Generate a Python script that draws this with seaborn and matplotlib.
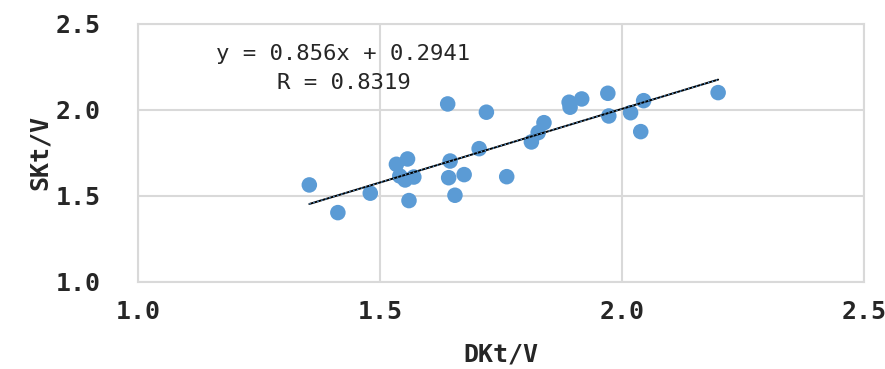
import numpy as np
import pandas as pd
import matplotlib
matplotlib.use("Agg")
import matplotlib.pyplot as plt
import seaborn as sns

# Data
dkt_v = [1.354, 1.413, 1.480, 1.534, 1.557, 1.541, 1.552, 1.570, 1.560,
         1.640, 1.645, 1.642, 1.655, 1.674, 1.705, 1.720, 1.762, 1.813,
         1.827, 1.839, 1.891, 1.893, 1.917, 1.971, 1.973, 2.018, 2.039,
         2.045, 2.199]
skt_v = [1.564, 1.403, 1.516, 1.684, 1.715, 1.616, 1.593, 1.610, 1.473,
         2.035, 1.703, 1.606, 1.504, 1.624, 1.775, 1.987, 1.612, 1.814,
         1.868, 1.926, 2.045, 2.016, 2.064, 2.097, 1.965, 1.984, 1.874,
         2.054, 2.101]
slope, intercept, r_value = 0.856, 0.2941, 0.8319
ticks = [1.0, 1.5, 2.0, 2.5]
tick_labels = ["1.0", "1.5", "2.0", "2.5"]

df = pd.DataFrame({"DKt/V": dkt_v, "SKt/V": skt_v})

sns.set_style("whitegrid")
plt.rcParams['font.family'] = ['DejaVu Sans Mono', 'Noto Sans CJK JP']

fig = plt.figure(figsize=(8.85, 3.69), dpi=100)
ax = fig.add_axes([0.156, 0.236, 0.82, 0.699])

blue = "#5B9BD5"
sns.scatterplot(data=df, x="DKt/V", y="SKt/V", color=blue, s=125,
                edgecolor="none", ax=ax, zorder=3)

# linear trendline over the data range
xs = np.array([min(dkt_v), max(dkt_v)])
ax.plot(xs, slope * xs + intercept, color="black", lw=1.4, zorder=4)
ax.plot(xs, slope * xs + intercept, color=blue, lw=1.0, ls=(0, (1, 2)), zorder=5)

ax.set_xlim(1.0, 2.5)
ax.set_ylim(1.0, 2.5)
ax.set_xticks(ticks)
ax.set_yticks(ticks)
ax.set_xticklabels(tick_labels, fontsize=18, fontweight="bold")
ax.set_yticklabels(tick_labels, fontsize=18, fontweight="bold")
ax.tick_params(axis="x", pad=13, length=0)
ax.tick_params(axis="y", pad=27, length=0)

ax.grid(True, color="#D9D9D9", lw=1.5)
for sp in ax.spines.values():
    sp.set_color("#D9D9D9")
    sp.set_linewidth(1.5)

ax.set_xlabel("DKt/V", fontsize=18, fontweight="bold", labelpad=13)
ax.set_ylabel("SKt/V", fontsize=18, fontweight="bold", labelpad=3)

ax.text(0.283, 0.8275, f"y = {slope}x + {intercept}\nR = {r_value}",
        transform=ax.transAxes, ha="center", va="center", fontsize=16,
        linespacing=1.55)

fig.savefig("out.png", dpi=100)
